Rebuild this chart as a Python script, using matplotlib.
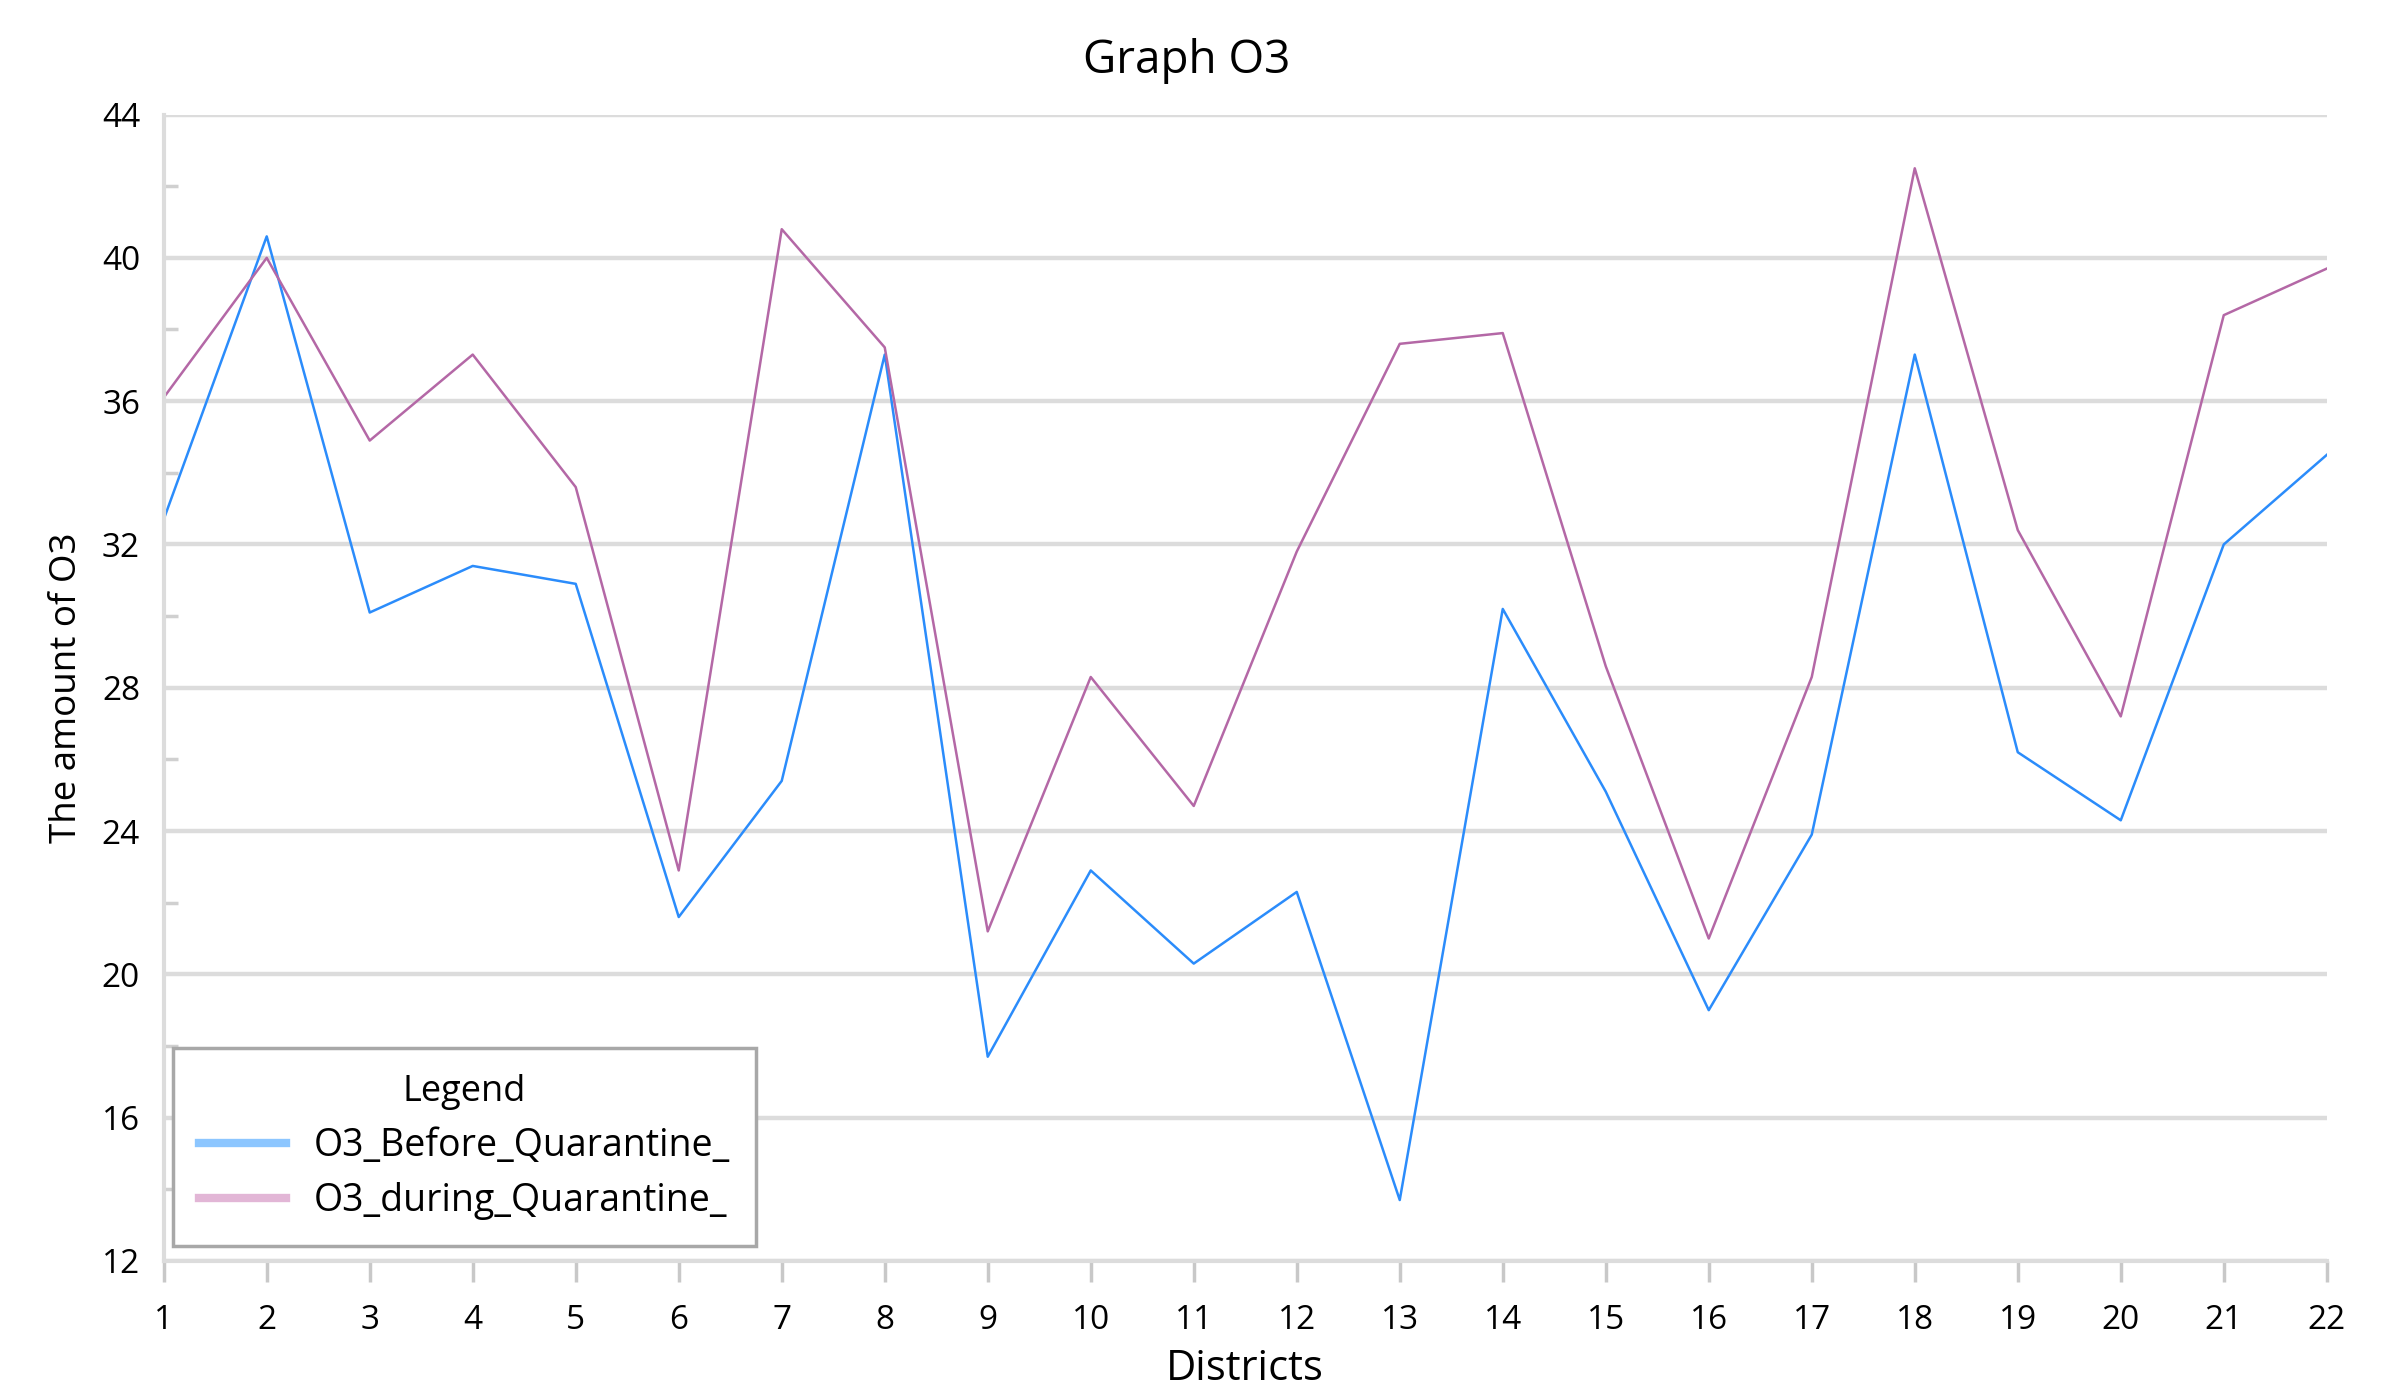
import matplotlib
matplotlib.use("Agg")
import matplotlib.pyplot as plt
from matplotlib.lines import Line2D
from matplotlib.ticker import MultipleLocator

# data
districts = list(range(1, 23))
o3_before = [32.7, 40.6, 30.1, 31.4, 30.9, 21.6, 25.4, 37.3, 17.7, 22.9, 20.3,
             22.3, 13.7, 30.2, 25.1, 19.0, 23.9, 37.3, 26.2, 24.3, 32.0, 34.5]
o3_during = [36.1, 40.0, 34.9, 37.3, 33.6, 22.9, 40.8, 37.5, 21.2, 28.3, 24.7,
             31.8, 37.6, 37.9, 28.6, 21.0, 28.3, 42.5, 32.4, 27.2, 38.4, 39.7]
series_labels = ["O3_Before_Quarantine_", "O3_during_Quarantine_"]

BLUE = "#2b8cfb"
PURPLE = "#b468a6"
GRID = "#dcdcdc"

plt.rcParams["font.family"] = ["Open Sans", "DejaVu Sans"]

fig = plt.figure(figsize=(23.97, 13.97), dpi=100)
ax = fig.add_axes([0.0683, 0.0974, 0.9024, 0.8206])

ax.plot(districts, o3_before, color=BLUE, lw=1.8)
ax.plot(districts, o3_during, color=PURPLE, lw=1.8)

ax.set_xlim(1, 22)
ax.set_ylim(12, 44)
ax.set_xticks(districts)
ax.yaxis.set_major_locator(MultipleLocator(4))
ax.yaxis.set_minor_locator(MultipleLocator(2))
ax.grid(axis="y", which="major", color=GRID, lw=3.2)
ax.set_axisbelow(True)

for s in ("top", "right"):
    ax.spines[s].set_visible(False)
for s in ("left", "bottom"):
    ax.spines[s].set_color(GRID)
    ax.spines[s].set_linewidth(3)

ax.tick_params(axis="x", direction="out", length=15, width=2.5,
               color="#c8c8c8", pad=16, labelsize=24)
ax.tick_params(axis="y", which="major", length=0, pad=17, labelsize=24)
ax.tick_params(axis="y", which="minor", direction="in", length=10, width=2.5,
               color="#d0d0d0")

ax.set_xlabel("Districts", fontsize=30, labelpad=8)
ax.set_ylabel("The amount of O3", fontsize=26.5, labelpad=12)
fig.text(0.495, 0.956, "Graph O3", ha="center", va="center", fontsize=33)

handles = [Line2D([], [], color="#8cc6ff", lw=6),
           Line2D([], [], color="#e2b6d6", lw=6)]
leg = ax.legend(handles, series_labels, title="Legend", loc="lower left",
                bbox_to_anchor=(0.0043, 0.013), borderaxespad=0,
                fontsize=27, title_fontsize=26, fancybox=False,
                edgecolor="#a8a8a8", framealpha=1, handlelength=2.3,
                handletextpad=0.75, borderpad=0.7, labelspacing=0.45)
leg.get_frame().set_linewidth(2.5)

fig.savefig("out.png", dpi=100)
